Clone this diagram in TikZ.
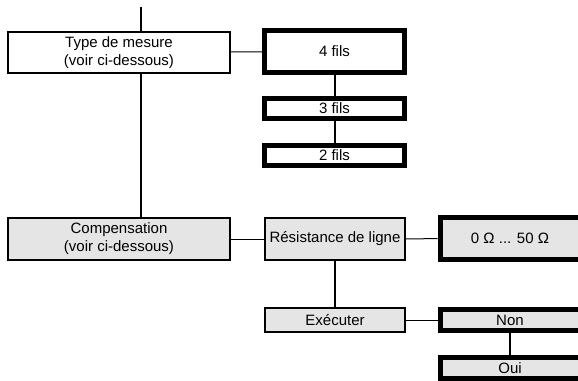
\documentclass[tikz,border=0pt]{standalone}
\usepackage{fontspec}
\setmainfont{Liberation Sans}
\begin{document}
\begin{tikzpicture}[x=1pt, y=-1pt,
                    box/.style={draw, line width=2pt, inner sep=0, minimum width=140pt,
                                minimum height=42pt, align=center,
                                font=\fontsize{15}{18}\selectfont},
                    grey/.style={box, fill=black!10},
                    chosen/.style={box, line width=5pt},
                    link/.style={line width=1pt},
                    stem/.style={line width=2pt}]
                \useasboundingbox (0,0) rectangle (578,380);
                \coordinate (top) at (141,7);

                \node [box, minimum width=222pt, minimum height=41pt] (type) at (119,52.5)
                    {Type de mesure\\(voir ci-dessous)};
                \node [chosen] (f4) at (334.5,51.5) {4 fils};
                \node [chosen, minimum height=20pt] (f3) at (334.5,108.5) {3 fils};
                \node [chosen, minimum height=20pt] (f2) at (334.5,155) {2 fils};

                \node [grey, minimum width=222pt] (comp) at (119,239)
                    {Compensation\\(voir ci-dessous)};
                \node [grey] (res) at (335,239) {Résistance de ligne};
                \node [chosen, fill=black!10] (val) at (510,238.5) {0 Ω ... 50 Ω};

                \node [grey, minimum height=24pt] (exe) at (335,320) {Exécuter};
                \node [chosen, fill=black!10, minimum height=21pt] (non) at (510,320) {Non};
                \node [chosen, fill=black!10, minimum height=21pt] (oui) at (510,368) {Oui};

                % main line
                \draw [stem] (top) -- (top |- type.north);
                \draw [stem] (type.south -| top) -- (comp.north -| top);
                \draw [link] (type) -- (f4);
                \draw [stem] (f4) -- (f3);
                \draw [stem] (f3) -- (f2);
                \draw [link] (comp) -- (res);
                \draw [link] (res) -- (val);
                \draw [stem] (res) -- (exe);
                \draw [link] (exe) -- (non);
                \draw [stem] (non) -- (oui);
            \end{tikzpicture}
\end{document}
